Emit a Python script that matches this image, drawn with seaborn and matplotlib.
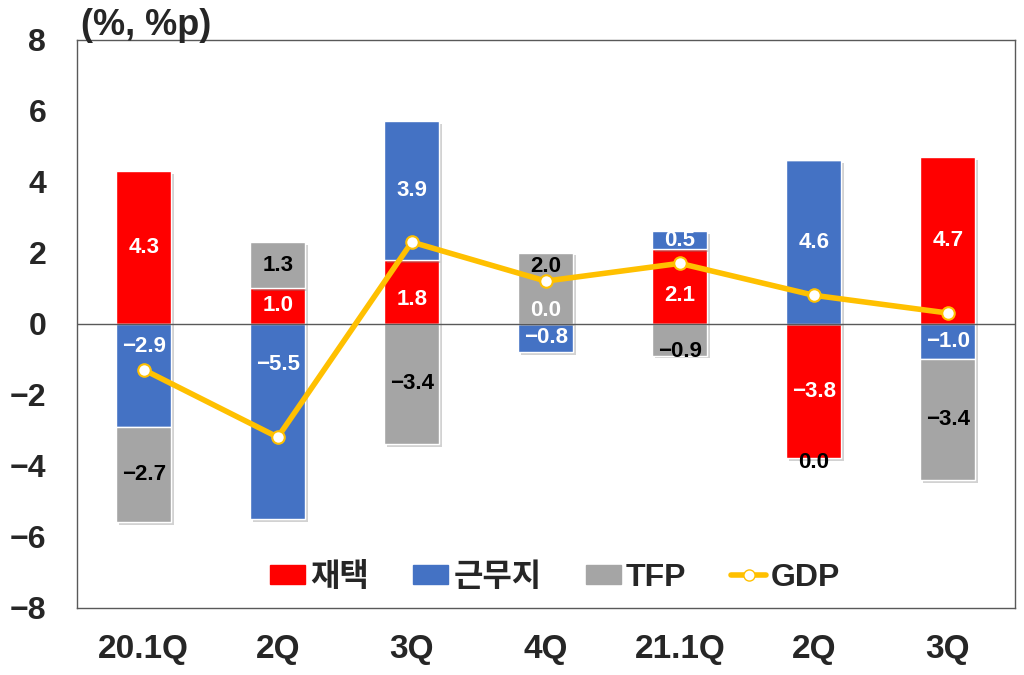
import numpy as np
import pandas as pd
import matplotlib
matplotlib.use("Agg")
import matplotlib.pyplot as plt
import matplotlib.patheffects as pe
import seaborn as sns
from matplotlib.patches import Patch
from matplotlib.lines import Line2D

# data
quarters = ["20.1Q", "2Q", "3Q", "4Q", "21.1Q", "2Q", "3Q"]
home = [4.3, 1.0, 1.8, 0.0, 2.1, -3.8, 4.7]        # 재택
office = [-2.9, -5.5, 3.9, -0.8, 0.5, 4.6, -1.0]   # 근무지
tfp = [-2.7, 1.3, -3.4, 2.0, -0.9, 0.0, -3.4]      # TFP
gdp = [-1.3, -3.2, 2.3, 1.2, 1.7, 0.8, 0.3]        # GDP

series = [("재택", home, "#FF0000", "white"),
          ("근무지", office, "#4472C4", "white"),
          ("TFP", tfp, "#A5A5A5", "black")]

sns.set_theme(style="white")
plt.rcParams["font.family"] = ["Liberation Sans", "Noto Sans CJK KR", "DejaVu Sans"]
plt.rcParams["font.weight"] = "bold"

fig = plt.figure(figsize=(10.24, 6.75), dpi=100)
ax = fig.add_axes([0.075, 0.1, 0.916, 0.841])

x = np.arange(len(quarters))
pos_base = np.zeros(len(x))
neg_base = np.zeros(len(x))
label_pos = []

shadow = [pe.SimplePatchShadow(offset=(2, -2), shadow_rgbFace="#808080", alpha=0.35),
          pe.Normal()]

for name, vals, color, tcolor in series:
    vals = np.array(vals)
    bottom = np.where(vals >= 0, pos_base, neg_base)
    df = pd.DataFrame({"x": x, "v": vals})
    sns.barplot(data=df, x="x", y="v", color=color, saturation=1,
                width=0.41, bottom=bottom, ax=ax, zorder=2)
    centers = bottom + vals / 2
    label_pos.append((vals, centers, tcolor))
    pos_base = np.where(vals >= 0, pos_base + vals, pos_base)
    neg_base = np.where(vals < 0, neg_base + vals, neg_base)

for p in ax.patches:
    p.set_path_effects(shadow)

# some labels were moved by hand in the original (to dodge the GDP line)
nudge = {(0, 3): 0.38, (2, 3): 1.6, (2, 5): -3.92,
         (1, 0): -0.64, (1, 1): -1.15, (0, 2): 0.69,
         (0, 4): 0.78, (2, 4): -0.78}

for si, (vals, centers, tcolor) in enumerate(label_pos):
    for i, (v, c) in enumerate(zip(vals, centers)):
        y = nudge.get((si, i), c)
        ax.text(i, y, f"{v:.1f}".replace("-", "−"), ha="center", va="center",
                color=tcolor, fontsize=16, fontweight="bold", zorder=5)

sns.lineplot(x=x, y=gdp, ax=ax, color="#FFC000", linewidth=4,
             marker="o", markersize=9, markerfacecolor="white",
             markeredgecolor="#FFC000", markeredgewidth=1.5, zorder=4)

ax.axhline(0, color="#595959", linewidth=1, zorder=3)

ax.set_xlim(-0.5, 6.5)
ax.set_ylim(-8, 8)
ax.set_yticks(np.arange(-8, 9, 2))
ax.set_yticklabels([str(t).replace("-", "−") for t in range(-8, 9, 2)],
                   fontsize=23, fontweight="bold")
ax.set_xticks(x)
ax.set_xticklabels(quarters, fontsize=24, fontweight="bold")
ax.tick_params(axis="x", length=0, pad=19)
ax.tick_params(axis="y", length=0, pad=22)
ax.set_xlabel("")
ax.set_ylabel("")
for s in ax.spines.values():
    s.set_color("#595959")
    s.set_linewidth(1)

ax.text(0.005, 0.995, "(%, %p)", transform=ax.transAxes, ha="left", va="bottom",
        fontsize=26, fontweight="bold")

handles = [Patch(color="#FF0000", label="재택"),
           Patch(color="#4472C4", label="근무지"),
           Patch(color="#A5A5A5", label="TFP"),
           Line2D([0], [0], color="#FFC000", linewidth=4, marker="o",
                  markersize=8, markerfacecolor="white",
                  markeredgecolor="#FFC000", label="GDP")]
leg = ax.legend(handles=handles, loc="lower center", bbox_to_anchor=(0.51, -0.025),
                ncol=4, frameon=False, fontsize=23, handlelength=1.1,
                handleheight=0.55, handletextpad=0.15, columnspacing=1.4)
for t in leg.get_texts():
    t.set_fontweight("bold")

fig.savefig("out.png", dpi=100)
